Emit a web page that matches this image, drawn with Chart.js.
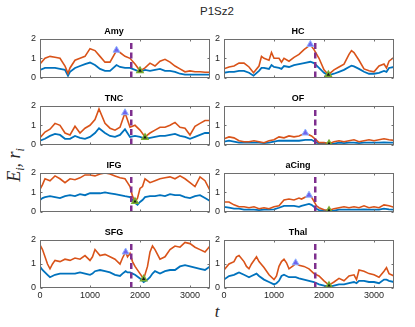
<!DOCTYPE html>
<html>
<head>
<meta charset="utf-8">
<script src="https://cdn.jsdelivr.net/npm/chart.js@4.4.0/dist/chart.umd.min.js"></script>
<style>
  body { margin: 0; background: #fff; width: 415px; height: 327px; position: relative; overflow: hidden; font-family: 'Liberation Sans', Arial, sans-serif; }
  canvas { position: absolute; }
  #title { position: absolute; left: 167px; width: 100px; top: 5px; text-align: center; font-size: 11.5px; color: #262626; }
  #xlab { position: absolute; left: 207px; width: 20px; top: 302px; text-align: center; font: italic 17px 'Liberation Serif', serif; color: #262626; }
  #ylab { position: absolute; left: 16px; top: 165px; transform: translate(-50%, -50%) rotate(-90deg); white-space: nowrap; font: italic 18px 'Liberation Serif', serif; color: #262626; }
  #ylab sub { font-size: 12px; }
</style>
</head>
<body>
<div id="title">P1Sz2</div>
<div id="xlab">t</div>
<div id="ylab">E<sub>i</sub>, r<sub>i</sub></div>
<script>
// tick values and seizure onset
const xTicks = [0, 1000, 2000, 3000]
const yTicks = [0, 1, 2]
const onset = 1825

const names = ['Amy', 'HC', 'TNC', 'OF', 'IFG', 'aCing', 'SFG', 'Thal']

// E_i (orange) and r_i (blue)
const amyT = [0,100,200,300,400,500,560,600,700,800,900,1000,1100,1200,1300,1400,1530,1600,1700,1800,1900,2000,2100,2200,2300,2400,2500,2600,2700,2800,2900,3000,3100,3200,3300,3400]
const amyE = [0.71,1.0,1.1,1.05,1.0,0.6,0.22,0.5,0.9,1.0,1.1,1.5,1.4,1.1,0.8,0.8,1.4,1.3,1.1,1.0,0.7,0.35,0.5,0.75,0.6,0.85,0.95,0.8,0.6,0.45,0.3,0.35,0.3,0.3,0.28,0.28]
const amyR = [0.4,0.5,0.5,0.5,0.45,0.4,0.1,0.3,0.5,0.6,0.7,0.78,0.65,0.45,0.35,0.35,0.65,0.55,0.5,0.5,0.4,0.3,0.4,0.35,0.4,0.45,0.35,0.35,0.3,0.2,0.15,0.15,0.15,0.15,0.15,0.15]

const hcT = [0,100,200,300,400,500,590,700,750,800,900,950,1000,1100,1150,1200,1300,1400,1500,1600,1727,1800,1900,2000,2087,2200,2300,2400,2500,2550,2600,2700,2800,2900,3000,3100,3200,3250,3300,3400]
const hcE = [0.46,0.55,0.6,0.75,0.75,0.55,0.25,0.6,1.1,1.0,0.9,1.3,1.0,1.0,0.8,1.0,0.85,1.05,1.2,1.45,1.7,1.45,1.0,0.4,0.15,0.4,0.55,0.7,1.2,1.4,1.3,0.9,0.45,0.35,0.3,0.6,0.7,0.5,0.85,1.05]
const hcR = [0.25,0.3,0.3,0.35,0.35,0.25,0.1,0.35,0.5,0.5,0.45,0.65,0.55,0.5,0.45,0.6,0.55,0.65,0.7,0.75,0.82,0.75,0.5,0.25,0.12,0.2,0.3,0.4,0.55,0.62,0.58,0.45,0.3,0.2,0.2,0.25,0.35,0.3,0.5,0.55]

const tncT = [0,100,200,300,400,500,600,700,800,900,1000,1100,1180,1300,1400,1500,1600,1700,1800,1900,2000,2100,2200,2300,2400,2500,2600,2700,2800,2900,3000,3100,3200,3300,3400]
const tncE = [0.35,0.65,0.8,1.1,1.0,0.6,0.5,0.95,0.6,0.85,1.0,1.3,1.85,1.1,0.85,0.75,0.9,1.65,0.9,1.0,0.75,0.4,0.6,0.75,0.9,0.9,1.0,1.15,0.9,0.85,0.5,0.95,1.1,1.25,1.25]
const tncR = [0.2,0.3,0.45,0.55,0.5,0.3,0.3,0.45,0.35,0.3,0.4,0.6,0.85,0.6,0.45,0.4,0.5,0.8,0.4,0.45,0.4,0.3,0.35,0.4,0.45,0.45,0.5,0.55,0.45,0.4,0.3,0.4,0.5,0.6,0.6]

const ofT = [0,100,200,300,400,500,600,700,800,900,1000,1100,1200,1300,1400,1500,1627,1750,1820,1900,2000,2100,2200,2300,2400,2500,2600,2700,2800,2900,3000,3100,3200,3300,3400]
const ofE = [0.3,0.4,0.35,0.2,0.15,0.15,0.2,0.15,0.1,0.2,0.25,0.4,0.35,0.45,0.4,0.45,0.6,0.45,0.3,0.1,0.1,0.05,0.15,0.2,0.15,0.2,0.25,0.15,0.2,0.25,0.2,0.25,0.3,0.25,0.22]
const ofR = [0.15,0.2,0.15,0.1,0.1,0.1,0.1,0.1,0.08,0.1,0.15,0.2,0.2,0.2,0.2,0.2,0.25,0.25,0.15,0.05,0.05,0.03,0.05,0.1,0.08,0.1,0.1,0.08,0.1,0.1,0.1,0.1,0.12,0.1,0.1]

const ifgT = [0,50,100,200,300,400,500,600,700,800,900,1000,1100,1200,1300,1400,1500,1600,1700,1750,1800,1850,1900,1950,2000,2050,2100,2200,2300,2400,2500,2600,2700,2800,2900,3000,3100,3200,3300,3400]
const ifgE = [1.15,1.4,1.7,1.6,1.85,1.7,1.5,1.7,1.65,1.75,1.9,1.9,1.85,1.95,2.0,1.95,1.85,1.75,1.7,1.5,1.3,0.8,0.5,0.7,1.2,1.3,1.7,1.5,1.6,1.7,1.75,1.8,1.7,1.85,1.7,1.5,1.3,1.8,1.6,1.1]
const ifgR = [0.6,0.7,0.75,0.8,0.75,0.7,0.8,0.85,0.8,0.9,0.85,0.95,0.95,0.95,1.0,0.95,0.9,0.85,0.8,0.78,0.75,0.6,0.45,0.35,0.5,0.6,0.75,0.8,0.8,0.85,0.8,0.9,0.85,0.85,0.75,0.7,0.8,0.85,0.7,0.55]

const acingT = [0,100,200,300,400,500,600,700,800,900,1000,1100,1200,1300,1400,1500,1550,1700,1750,1850,1900,2000,2100,2200,2300,2400,2500,2600,2700,2800,2900,3000,3100,3200,3300,3400]
const acingE = [0.5,0.5,0.35,0.25,0.25,0.2,0.25,0.15,0.2,0.15,0.25,0.3,0.6,0.65,0.6,0.7,0.65,0.85,0.75,0.3,0.2,0.1,0.07,0.15,0.2,0.25,0.2,0.25,0.2,0.3,0.2,0.25,0.2,0.35,0.3,0.22]
const acingR = [0.25,0.2,0.15,0.15,0.1,0.1,0.1,0.08,0.1,0.1,0.12,0.2,0.3,0.3,0.3,0.25,0.3,0.4,0.35,0.15,0.08,0.05,0.04,0.05,0.1,0.1,0.1,0.1,0.1,0.12,0.1,0.1,0.1,0.15,0.12,0.1]

const sfgT = [0,50,150,200,250,300,400,500,600,700,800,900,1000,1050,1100,1200,1300,1400,1500,1600,1650,1713,1750,1800,1850,1900,2000,2073,2150,2200,2250,2300,2400,2500,2600,2700,2800,2900,3000,3100,3200,3300,3400]
const sfgE = [1.8,1.6,1.0,0.8,1.0,1.15,1.1,1.2,1.15,1.25,1.2,1.35,1.15,1.3,1.6,1.35,1.4,1.3,1.2,1.0,1.25,1.5,1.3,1.45,1.1,0.9,0.6,0.38,0.9,1.5,1.75,1.6,1.2,1.3,1.6,1.75,1.7,1.9,1.85,1.7,1.6,1.5,1.75]
const sfgR = [0.9,0.75,0.55,0.45,0.5,0.55,0.6,0.6,0.6,0.6,0.65,0.6,0.55,0.6,0.7,0.75,0.7,0.65,0.55,0.5,0.6,0.7,0.65,0.65,0.6,0.55,0.4,0.25,0.35,0.45,0.6,0.7,0.6,0.7,0.75,0.75,0.9,0.95,0.9,0.85,0.8,0.75,0.9]

const thalT = [0,100,200,250,300,400,450,500,550,650,700,800,900,1000,1050,1100,1150,1200,1250,1300,1400,1433,1500,1600,1700,1800,1900,2000,2100,2200,2300,2400,2500,2600,2650,2700,2800,2900,3000,3100,3200,3250,3300,3400]
const thalE = [0.75,1.0,1.1,1.3,1.35,1.1,0.9,0.8,1.0,1.3,1.1,0.85,0.55,0.35,0.5,0.9,1.1,1.2,1.05,0.8,0.95,1.05,0.95,0.9,0.8,0.6,0.5,0.3,0.12,0.25,0.4,0.3,0.5,0.55,0.35,0.75,0.7,0.6,0.55,0.45,0.7,0.85,0.6,0.5]
const thalR = [0.35,0.5,0.55,0.6,0.65,0.55,0.5,0.45,0.5,0.6,0.5,0.35,0.25,0.15,0.2,0.3,0.5,0.55,0.5,0.45,0.45,0.45,0.4,0.35,0.3,0.25,0.15,0.1,0.05,0.1,0.15,0.15,0.2,0.25,0.2,0.3,0.3,0.25,0.25,0.2,0.35,0.35,0.3,0.25]

// peak (triangle) and minimum (green) markers, per panel
const peakT = [1530, 1727, 1700, 1627, null, 1700, 1713, 1433]
const peakV = [1.42, 1.72, 1.65, 0.6, null, 0.85, 1.5, 1.05]
const lowT = [2000, 2087, 2100, 2100, 1900, 2100, 2073, 2100]
const lowV = [0.36, 0.15, 0.37, 0.05, 0.52, 0.06, 0.38, 0.1]

const allT = [amyT, hcT, tncT, ofT, ifgT, acingT, sfgT, thalT]
const allE = [amyE, hcE, tncE, ofE, ifgE, acingE, sfgE, thalE]
const allR = [amyR, hcR, tncR, ofR, ifgR, acingR, sfgR, thalR]

// layout
const axesLeft = [40, 224]
const axesTop = [39, 106, 173, 240]
const plotW = 170, plotH = 48
const yAxisW = 22, padR = 6, titleH = 15

const tickFont = { family: "'Liberation Sans', Arial, sans-serif", size: 9 }

// MATLAB-style box with inward ticks
const boxPlugin = {
    id: 'box',
    afterDatasetsDraw(chart) {
        let { ctx, chartArea: a, scales } = chart
        let l = Math.round(a.left) + 0.5, r = Math.round(a.right) - 0.5
        let t = Math.round(a.top) + 0.5, b = Math.round(a.bottom) - 0.5
        ctx.save()
        ctx.strokeStyle = '#6e6e6e'
        ctx.lineWidth = 1
        ctx.strokeRect(l, t, r - l, b - t)
        ctx.beginPath()
        scales.x.ticks.forEach(tk => {
            let px = Math.round(scales.x.getPixelForValue(tk.value)) + 0.5
            ctx.moveTo(px, b); ctx.lineTo(px, b - 2)
            ctx.moveTo(px, t); ctx.lineTo(px, t + 2)
        })
        scales.y.ticks.forEach(tk => {
            let py = Math.round(scales.y.getPixelForValue(tk.value)) + 0.5
            ctx.moveTo(l, py); ctx.lineTo(l + 2, py)
            ctx.moveTo(r, py); ctx.lineTo(r - 2, py)
        })
        ctx.stroke()
        ctx.restore()
    }
}

names.forEach(function(name, i) {
    let col = i % 2, row = Math.floor(i / 2)
    let bottomRow = row === 3
    let xAxisH = bottomRow ? 16 : 0
    let cv = document.createElement('canvas')
    cv.width = yAxisW + plotW + padR
    cv.height = titleH + plotH + xAxisH
    cv.style.left = (axesLeft[col] - yAxisW) + 'px'
    cv.style.top = (axesTop[row] - titleH) + 'px'
    document.body.appendChild(cv)

    let ts = allT[i]
    let datasets = [
        {
            data: ts.map((t, k) => ({ x: t, y: allE[i][k] })),
            borderColor: '#D95319', borderWidth: 1.6, pointRadius: 0, order: 3
        },
        {
            data: ts.map((t, k) => ({ x: t, y: allR[i][k] })),
            borderColor: '#0072BD', borderWidth: 1.8, pointRadius: 0, order: 4
        },
        {
            data: [{ x: onset, y: 0 }, { x: onset, y: 2 }],
            borderColor: '#7E2F8E', borderWidth: 2.5, borderDash: [6, 3.5], pointRadius: 0, order: 2
        },
        {
            data: [{ x: lowT[i], y: lowV[i] }],
            showLine: false, pointStyle: 'triangle', pointRadius: 3.5,
            backgroundColor: '#1a1a1a', borderColor: '#77AC30', borderWidth: 1.5, order: 1
        }
    ]
    if (peakT[i] !== null) {
        datasets.push({
            data: [{ x: peakT[i], y: peakV[i] }],
            showLine: false, pointStyle: 'triangle', pointRadius: 4,
            backgroundColor: '#6f63ee', borderColor: '#8fb4ff', borderWidth: 1, order: 0
        })
    }

    new Chart(cv, {
        type: 'line',
        data: { datasets: datasets },
        options: {
            responsive: false,
            animation: false,
            layout: { padding: { left: 0, right: padR, top: 0, bottom: 0 } },
            plugins: {
                legend: { display: false },
                tooltip: { enabled: false },
                title: {
                    display: true, text: name, color: '#000',
                    font: { family: "'Liberation Sans', Arial, sans-serif", size: 9, weight: 'bold' },
                    padding: { top: 2, bottom: 2.2 }
                }
            },
            scales: {
                x: {
                    type: 'linear', min: 0, max: 3400,
                    afterBuildTicks: s => { s.ticks = xTicks.map(v => ({ value: v })) },
                    afterFit: s => { s.height = xAxisH },
                    grid: { display: false, drawTicks: false },
                    border: { display: false },
                    ticks: { display: bottomRow, color: '#262626', font: tickFont, padding: 2, maxRotation: 0, callback: v => String(v) }
                },
                y: {
                    min: 0, max: 2,
                    afterBuildTicks: s => { s.ticks = yTicks.map(v => ({ value: v })) },
                    afterFit: s => { s.width = yAxisW },
                    grid: { display: false, drawTicks: false },
                    border: { display: false },
                    ticks: { color: '#262626', font: tickFont, padding: 4 }
                }
            }
        },
        plugins: [boxPlugin]
    })
})
</script>
</body>
</html>
